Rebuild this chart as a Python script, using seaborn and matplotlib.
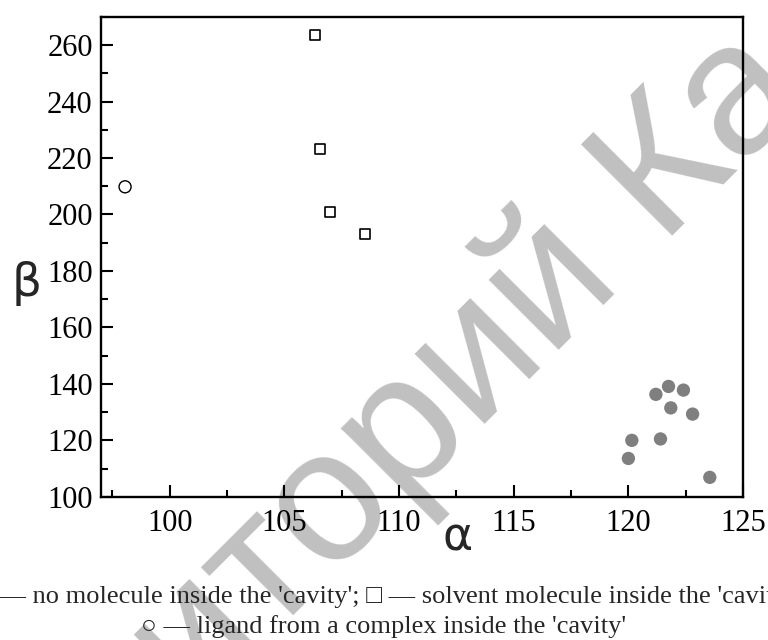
import matplotlib
matplotlib.use("Agg")
import matplotlib.pyplot as plt
import seaborn as sns
from matplotlib.ticker import MultipleLocator

# filled grey: no molecule inside the cavity
no_mol_alpha = [121.2, 121.75, 122.4, 121.85, 122.8, 120.15, 121.4, 120.0, 123.55]
no_mol_beta = [136.3, 139.1, 137.8, 131.5, 129.3, 120.0, 120.5, 113.6, 106.9]
# open squares: solvent molecule inside the cavity
solvent_alpha = [106.35, 106.55, 107.0, 108.5]
solvent_beta = [263.4, 223.2, 200.8, 193.1]
# open circle: ligand from a complex inside the cavity
ligand_alpha = [98.05]
ligand_beta = [209.8]

caption_1 = "● — no molecule inside the 'cavity'; □ — solvent molecule inside the 'cavity'"
caption_2 = "○ — ligand from a complex inside the 'cavity'"
watermark_head = "Репозиторий"
watermark_tail = "Ка"

sns.set_theme(style="ticks")
serif = ["Liberation Serif", "DejaVu Serif", "DejaVu Sans"]
plt.rcParams["font.family"] = serif

fig = plt.figure(figsize=(7.68, 6.4), dpi=100, facecolor="white")
ax = fig.add_axes([0.1315, 0.2237, 0.836, 0.750])
ax.set_facecolor("none")

sns.scatterplot(x=no_mol_alpha, y=no_mol_beta, ax=ax, s=92, color="#7f7f7f",
                edgecolor="none", marker="o", zorder=3)
sns.scatterplot(x=solvent_alpha, y=solvent_beta, ax=ax, s=52, facecolor="none",
                edgecolor="black", linewidth=1.2, marker="s", zorder=3)
sns.scatterplot(x=ligand_alpha, y=ligand_beta, ax=ax, s=75, facecolor="none",
                edgecolor="black", linewidth=1.0, marker="o", zorder=3)

ax.set_xlim(97, 125)
ax.set_ylim(100, 270)
ax.xaxis.set_major_locator(MultipleLocator(5))
ax.xaxis.set_minor_locator(MultipleLocator(2.5))
ax.yaxis.set_major_locator(MultipleLocator(20))
ax.yaxis.set_minor_locator(MultipleLocator(10))
ax.tick_params(which="both", direction="in", colors="black", width=1.5)
ax.tick_params(which="major", length=8.5, labelsize=22)
ax.tick_params(axis="x", which="major", pad=9)
ax.tick_params(axis="y", which="major", pad=6)
ax.tick_params(which="minor", length=5)
for sp in ax.spines.values():
    sp.set_visible(True)
    sp.set_color("black")
    sp.set_linewidth(1.7)

ax.set_xlabel("α", fontsize=33, family="DejaVu Sans")
ax.xaxis.set_label_coords(0.555, -0.085)
ax.xaxis.label.set_va("center")
ax.set_ylabel("β", fontsize=34, family="DejaVu Sans", rotation=0)
ax.yaxis.set_label_coords(-0.116, 0.444)
ax.yaxis.label.set_ha("center")
ax.yaxis.label.set_va("center")

fig.text(0.5, 1 - 603 / 640, caption_1, ha="center", va="baseline", fontsize=19,
         family=serif)
fig.text(0.5, 1 - 633 / 640, caption_2, ha="center", va="baseline", fontsize=19,
         family=serif)

# grey diagonal watermark behind the frame
px, py = 657 / 768, 1 - 236 / 640
fig.text(px, py, watermark_tail, rotation=45, rotation_mode="anchor",
         ha="left", va="baseline", fontsize=135, color="#c0c0c0",
         family="Liberation Sans", zorder=-1)
fig.text(px - 0.048, py - 0.058, watermark_head, rotation=45, rotation_mode="anchor",
         ha="right", va="baseline", fontsize=135, color="#c0c0c0",
         family="Liberation Sans", zorder=-1)

plt.savefig("out.png", dpi=100, facecolor="white")
